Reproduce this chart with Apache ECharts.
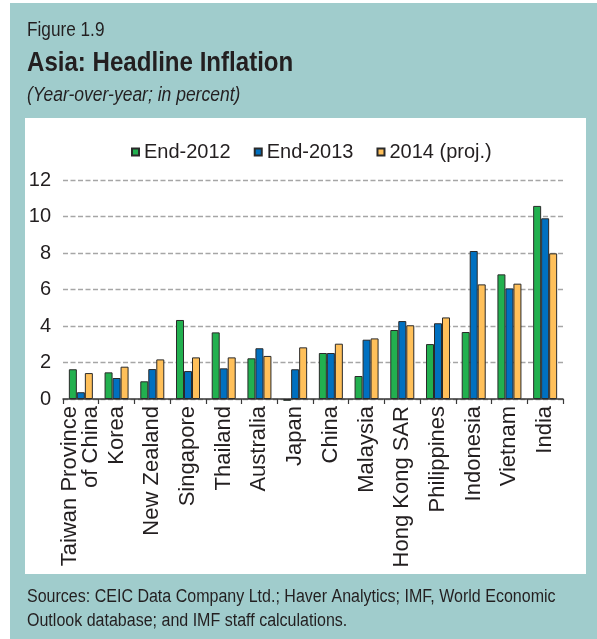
<!DOCTYPE html>
<html>
<head>
<meta charset="utf-8">
<script src="https://cdn.jsdelivr.net/npm/echarts@6/dist/echarts.min.js"></script>
<style>
  html, body { margin: 0; padding: 0; background: #ffffff; }
  #frame { position: absolute; left: 10px; top: 3px; width: 587px; height: 636px; background: #A0CCCC; }
  #panel { position: absolute; left: 25px; top: 118px; width: 561px; height: 456px; background: #ffffff; }
  #chart { position: absolute; left: 0; top: 0; width: 597px; height: 639px; }
</style>
</head>
<body>
<div id="frame"></div>
<div id="panel"></div>
<div id="chart"></div>
<script>
// Economies, ordered by projected 2014 inflation
const categories = ['Taiwan Province\nof China', 'Korea', 'New Zealand', 'Singapore', 'Thailand',
  'Australia', 'Japan', 'China', 'Malaysia', 'Hong Kong SAR', 'Philippines', 'Indonesia',
  'Vietnam', 'India'];

// Year-over-year headline inflation, percent
const end2012 = [1.63, 1.46, 0.97, 4.33, 3.65, 2.23, -0.1, 2.52, 1.26, 3.78, 3.01, 3.67, 6.83, 10.58];
const end2013 = [0.37, 1.15, 1.64, 1.53, 1.68, 2.78, 1.63, 2.52, 3.25, 4.27, 4.15, 8.11, 6.06, 9.90];
const proj2014 = [1.42, 1.77, 2.17, 2.28, 2.28, 2.36, 2.83, 3.03, 3.32, 4.04, 4.47, 6.28, 6.32, 7.98];

const seriesNames = ['End-2012', 'End-2013', '2014 (proj.)'];
const yTicks = { min: 0, max: 12, interval: 2 };

const FONT = "'Liberation Sans', Arial, sans-serif";
const INK = '#231F20';
const colors = ['#22B04F', '#0070C0', '#FFC05A'];

const chart = echarts.init(document.getElementById('chart'), null, { renderer: 'canvas' });

function barSeries(name, data, color) {
  return {
    name: name,
    type: 'bar',
    data: data,
    barWidth: 8,
    barGap: '0%',
    clip: false,
    itemStyle: { color: color, borderColor: '#2a2a2a', borderWidth: 1 }
  };
}

// Condensed text: regular face squeezed horizontally
function narrowText(x, y, text, size, squeeze, weight, style) {
  return {
    type: 'text',
    x: x, y: y,
    scaleX: squeeze,
    style: {
      x: 0, y: 0,
      text: text,
      fill: INK,
      font: (style || 'normal') + ' ' + (weight || 'normal') + ' ' + size + 'px ' + FONT,
      verticalAlign: 'middle',
      align: 'left'
    }
  };
}

chart.setOption({
  backgroundColor: 'transparent',
  animation: false,
  textStyle: { fontFamily: FONT },
  graphic: {
    elements: [
      narrowText(27, 30, 'Figure 1.9', 20, 0.86),
      narrowText(27, 63, 'Asia: Headline Inflation', 28, 0.86, 'bold'),
      narrowText(27, 95, '(Year-over-year; in percent)', 20, 0.875, 'normal', 'italic'),
      narrowText(27, 597, 'Sources: CEIC Data Company Ltd.; Haver Analytics; IMF, World Economic', 18, 0.89),
      narrowText(27, 621, 'Outlook database; and IMF staff calculations.', 18, 0.89)
    ]
  },
  legend: {
    data: seriesNames,
    left: 131,
    top: 142,
    padding: 0,
    icon: 'rect',
    itemWidth: 7,
    itemHeight: 7,
    itemGap: 23,
    textStyle: { fontSize: 20, color: INK, fontFamily: FONT }
  },
  grid: { left: 63, right: 34, top: 180, bottom: 240, containLabel: false },
  xAxis: {
    type: 'category',
    data: categories,
    axisLine: { show: true, onZero: false, lineStyle: { color: '#3a3a3a', width: 1.5 } },
    axisTick: { show: true, length: 5, interval: 0, lineStyle: { color: '#3a3a3a', width: 1.2 } },
    axisLabel: {
      interval: 0,
      rotate: 90,
      margin: 7,
      fontSize: 22,
      lineHeight: 21,
      color: INK,
      fontFamily: FONT
    }
  },
  yAxis: {
    type: 'value',
    min: yTicks.min,
    max: yTicks.max,
    interval: yTicks.interval,
    axisLine: { show: false },
    axisTick: { show: false },
    axisLabel: { margin: 12, fontSize: 20, color: INK, fontFamily: FONT },
    splitLine: { lineStyle: { color: '#A6A6A6', width: 1.3, type: [5, 2.5] } }
  },
  series: [
    barSeries(seriesNames[0], end2012, colors[0]),
    barSeries(seriesNames[1], end2013, colors[1]),
    barSeries(seriesNames[2], proj2014, colors[2])
  ]
});
</script>
</body>
</html>
